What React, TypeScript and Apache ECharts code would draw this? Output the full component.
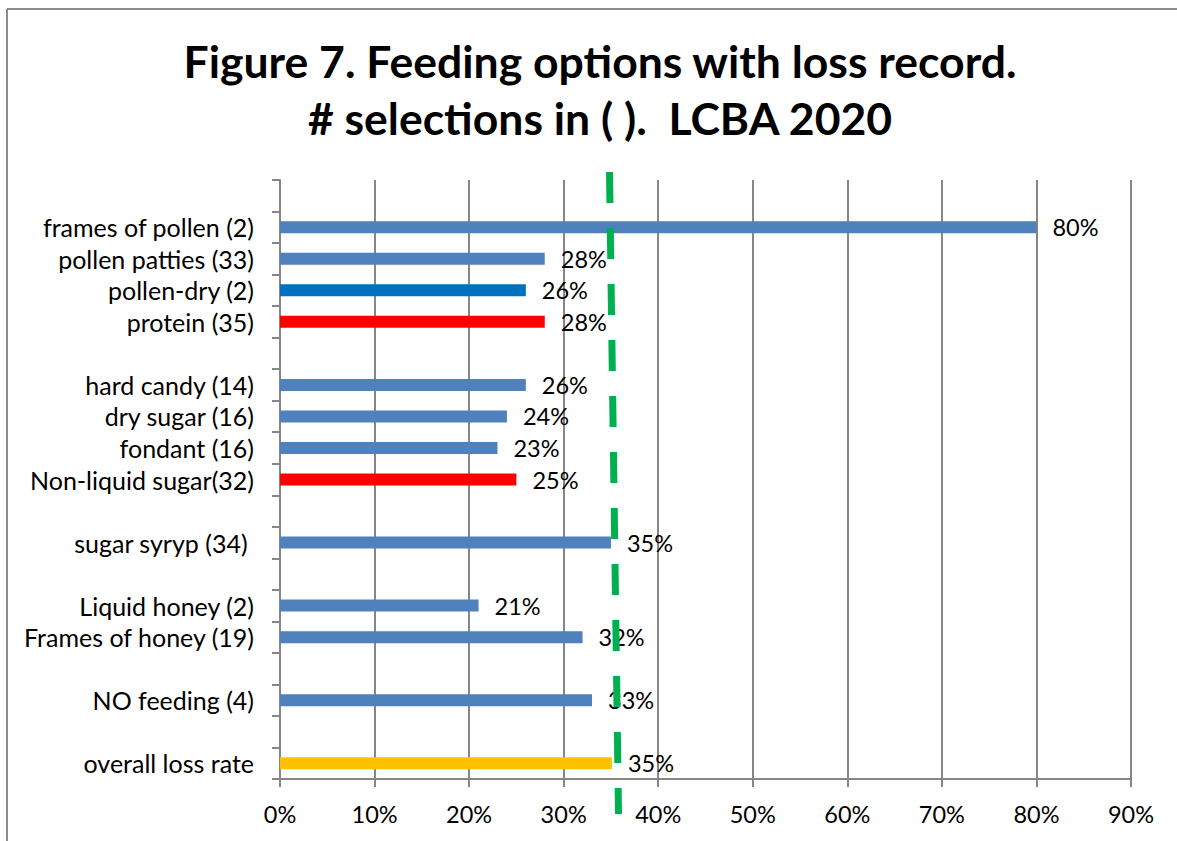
import React, { useEffect, useRef } from "react";
import * as echarts from "echarts";

const categories = [
  "",
  "frames of pollen (2)",
  "pollen patties (33)",
  "pollen-dry (2)",
  "protein (35)",
  "",
  "hard candy (14)",
  "dry sugar (16)",
  "fondant (16)",
  "Non-liquid sugar(32)",
  "",
  "sugar syryp (34) ",
  "",
  "Liquid honey (2)",
  "Frames of honey (19)",
  "",
  "NO feeding (4)",
  "",
  "overall loss rate",
];

const lossRates: (number | null)[] = [
  null, 0.8, 0.28, 0.26, 0.28, null, 0.26, 0.24, 0.23, 0.25, null, 0.35, null, 0.21, 0.32, null, 0.33, null, 0.351,
];

const BLUE = "#4F81BD";
const barColors = [
  BLUE, BLUE, BLUE, "#0070C0", "#FF0000", BLUE, BLUE, BLUE, BLUE, "#FF0000", BLUE, BLUE, BLUE, BLUE, BLUE, BLUE, BLUE, BLUE, "#FFC000",
];

const xTicks = [0, 0.1, 0.2, 0.3, 0.4, 0.5, 0.6, 0.7, 0.8, 0.9];

// reference line (overall loss rate), slightly slanted as drawn in the source
const refLineTop = 0.3485;
const refLineBottom = 0.3580;

const FONT = "Lato";

export default function App() {
  const ref = useRef<HTMLDivElement>(null);
  useEffect(() => {
    if (!ref.current) return;
    const chart = echarts.init(ref.current, undefined, { renderer: "svg" });
    chart.setOption({
      animation: false,
      backgroundColor: "#fff",
      textStyle: { fontFamily: FONT },
      title: {
        text: "Figure 7. Feeding options with loss record.\n# selections in ( ).  LCBA 2020",
        left: 595,
        top: 27,
        textAlign: "center",
        textStyle: {
          fontFamily: FONT,
          fontWeight: "bold",
          fontSize: 44.5,
          lineHeight: 57,
          color: "#000",
        },
      },
      grid: { left: 280, right: 46, top: 180, bottom: 62, containLabel: false },
      xAxis: {
        type: "value",
        min: xTicks[0],
        max: xTicks[xTicks.length - 1],
        interval: 0.1,
        axisLine: { show: true, lineStyle: { color: "#868686", width: 2 } },
        axisTick: { show: true, length: 8, lineStyle: { color: "#868686", width: 2 } },
        splitLine: { show: true, lineStyle: { color: "#868686", width: 2 } },
        axisLabel: {
          margin: 23,
          fontFamily: FONT,
          fontSize: 23.5,
          color: "#000",
          formatter: (v: number) => Math.round(v * 100) + "%",
        },
      },
      yAxis: {
        type: "category",
        inverse: true,
        data: categories,
        axisLine: { show: true, lineStyle: { color: "#868686", width: 2 } },
        axisTick: { show: true, interval: 0, length: 8, lineStyle: { color: "#868686", width: 2 } },
        axisLabel: { interval: 0, margin: 26, fontFamily: FONT, fontSize: 25, color: "#000" },
      },
      series: [
        {
          type: "bar",
          barWidth: 12,
          data: lossRates.map((v, i) => ({ value: v, itemStyle: { color: barColors[i] } })),
          label: {
            show: true,
            position: "right",
            distance: 16,
            fontFamily: FONT,
            fontSize: 23.5,
            color: "#000",
            formatter: (p: any) => (p.value == null ? "" : Math.round(p.value * 100) + "%"),
          },
        },
      ],
    });
    const xTop = chart.convertToPixel({ xAxisIndex: 0 }, refLineTop) as number;
    const xBot = chart.convertToPixel({ xAxisIndex: 0 }, refLineBottom) as number;
    chart.setOption({
      graphic: [
        {
          type: "line",
          z: 100,
          shape: { x1: 7, y1: 9, x2: 1177, y2: 9 },
          style: { stroke: "#8c8c8c", lineWidth: 2 },
        },
        {
          type: "line",
          z: 100,
          shape: { x1: 7, y1: 9, x2: 7, y2: 841 },
          style: { stroke: "#8c8c8c", lineWidth: 2 },
        },
        {
          type: "line",
          z: 100,
          shape: { x1: xTop, y1: 172, x2: xBot, y2: 814 },
          style: { stroke: "#00B050", lineWidth: 7, lineDash: [31, 25] },
        },
      ],
    });
    return () => chart.dispose();
  }, []);
  return <div ref={ref} style={{ width: 1177, height: 841, position: "absolute", left: 0, top: 0 }} />;
}
